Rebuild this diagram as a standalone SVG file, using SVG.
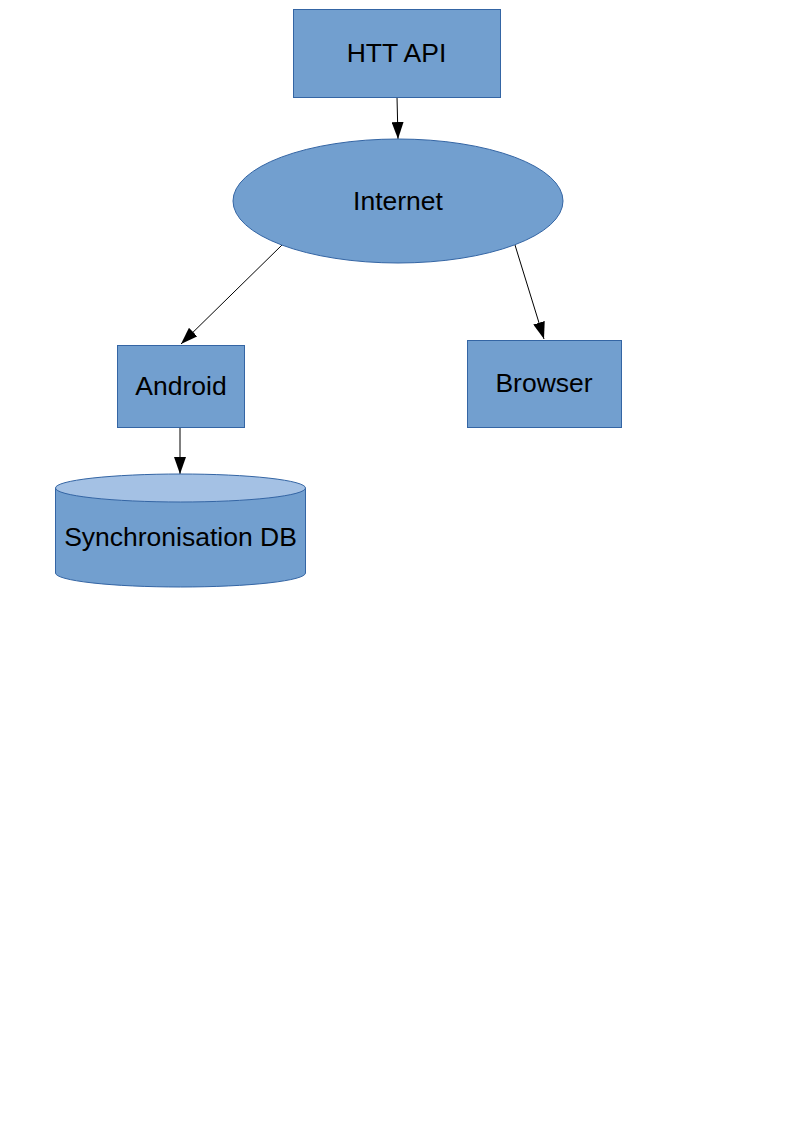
<svg xmlns="http://www.w3.org/2000/svg" width="794" height="1123" viewBox="0 0 794 1123">
<style>
.n{fill:#729fcf;stroke:#3465a4;stroke-width:1}
.t{font-family:"Liberation Sans",Arial,sans-serif;font-size:26.5px;fill:#000;text-anchor:middle}
.c{stroke:#000;stroke-width:1;fill:none;marker-end:url(#a)}
</style>
<defs>
<marker id="a" viewBox="0 0 17 12" refX="17" refY="6" markerWidth="17" markerHeight="12" markerUnits="userSpaceOnUse" orient="auto">
<path d="M0,0 L17,6 L0,12 Z" fill="#000"/>
</marker>
</defs>
<rect width="794" height="1123" fill="#fff"/>
<g id="connectors">
<line class="c" x1="397" y1="97" x2="398" y2="139"/>
<line class="c" x1="282" y1="245" x2="181" y2="344"/>
<line class="c" x1="515" y1="245" x2="544" y2="339"/>
<line class="c" x1="180" y1="427" x2="180" y2="474"/>
</g>
<g id="htt-api">
<rect class="n" x="293.5" y="9.5" width="207" height="88"/>
<text class="t" x="396.5" y="62">HTT API</text>
</g>
<g id="internet">
<ellipse class="n" cx="398" cy="201" rx="165" ry="62"/>
<text class="t" x="398" y="210">Internet</text>
</g>
<g id="android">
<rect class="n" x="117.5" y="345.5" width="127" height="82"/>
<text class="t" x="181" y="395">Android</text>
</g>
<g id="browser">
<rect class="n" x="467.5" y="340.5" width="154" height="87"/>
<text class="t" x="544" y="392">Browser</text>
</g>
<g id="sync-db">
<path class="n" d="M55.5,488 L55.5,573 A125,14 0 0 0 305.5,573 L305.5,488"/>
<ellipse cx="180.5" cy="488" rx="125" ry="14" fill="#a4c1e4" stroke="#3465a4" stroke-width="1"/>
<text class="t" x="180.5" y="546">Synchronisation DB</text>
</g>
</svg>
